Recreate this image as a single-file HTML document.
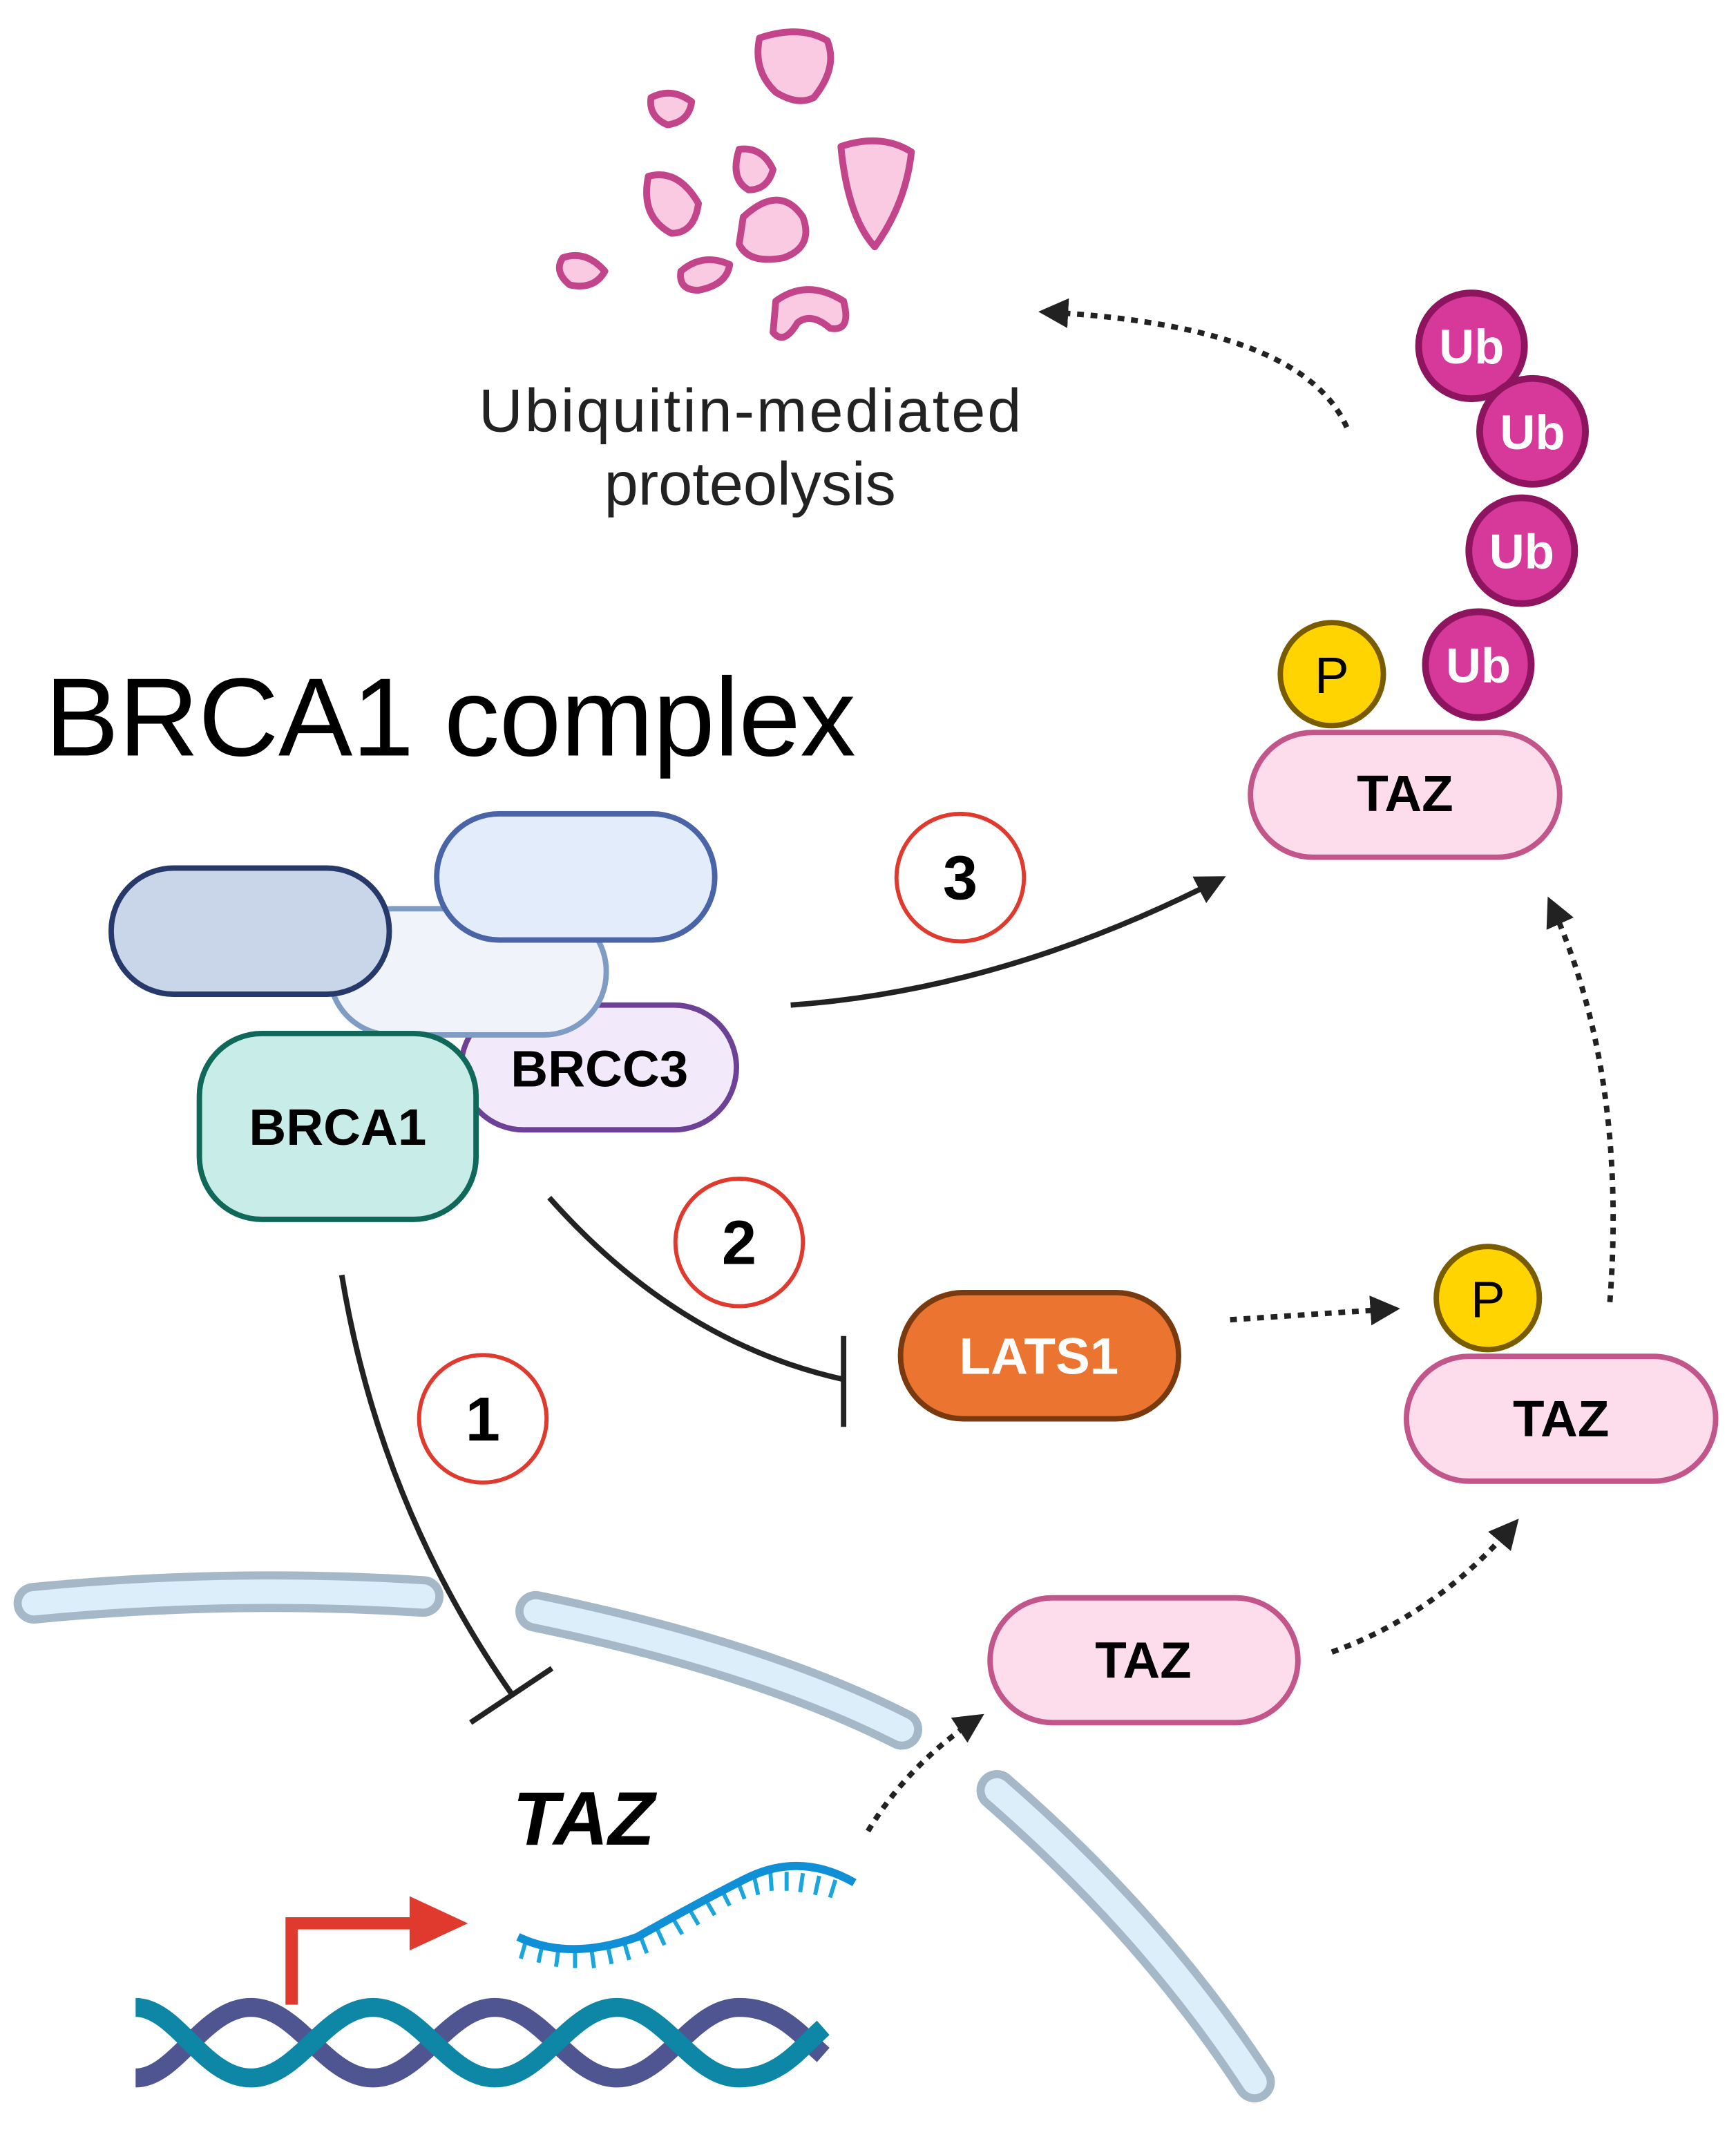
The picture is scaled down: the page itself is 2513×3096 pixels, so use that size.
<!DOCTYPE html>
<html><head><meta charset="utf-8"><style>html,body{margin:0;padding:0;background:#fff}svg{display:block}</style></head>
<body>
<svg width="2513" height="3096" viewBox="0 0 1280 1577" preserveAspectRatio="none" xmlns="http://www.w3.org/2000/svg" font-family="'Liberation Sans', sans-serif">
<defs>
<marker id="ah" viewBox="0 0 10 10" refX="8" refY="5" markerWidth="5.5" markerHeight="5.5" orient="auto"><path d="M0,0 L10,5 L0,10 z" fill="#222"/></marker>
</defs>
<g fill="#fac9e2" stroke="#c2448a" stroke-width="5" stroke-linejoin="round">
<path d="M560,28 Q590,18 610,30 Q618,50 600,72 Q588,78 572,68 Q555,52 560,28z"/>
<path d="M480,72 Q495,64 510,75 Q508,90 492,92 Q478,86 480,72z"/>
<path d="M545,110 Q562,108 570,125 Q566,140 552,140 Q538,132 545,110z"/>
<path d="M620,108 Q650,98 672,112 Q668,150 645,182 Q625,160 620,108z"/>
<path d="M478,130 Q500,124 515,150 Q512,172 495,172 Q472,160 478,130z"/>
<path d="M548,160 Q575,135 592,160 Q600,182 578,190 Q552,195 545,180z"/>
<path d="M415,190 Q432,184 446,200 Q438,214 420,210 Q408,200 415,190z"/>
<path d="M502,200 Q518,186 538,195 Q536,210 515,214 Q500,214 502,200z"/>
<path d="M572,222 Q595,205 622,222 Q628,245 612,242 Q598,230 588,238 Q578,255 570,245z"/>
</g>
<text x="553" y="318" font-size="45" text-anchor="middle" fill="#222" textLength="400">Ubiquitin-mediated</text>
<text x="553" y="372" font-size="45" text-anchor="middle" fill="#222">proteolysis</text>
<path d="M993,315 Q960,240 770,230" fill="none" stroke="#222" stroke-width="4" stroke-dasharray="5,5" marker-end="url(#ah)"/>
<g stroke="#8e1460" stroke-width="5" fill="#d6399a">
<circle cx="1085" cy="255" r="39"/><circle cx="1130" cy="318" r="39"/><circle cx="1122" cy="406" r="39"/><circle cx="1090" cy="490" r="39"/>
</g>
<g fill="#fff" font-size="36" font-weight="bold" text-anchor="middle">
<text x="1085" y="268">Ub</text><text x="1130" y="331">Ub</text><text x="1122" y="419">Ub</text><text x="1090" y="503">Ub</text>
</g>
<circle cx="982" cy="497" r="38" fill="#ffd400" stroke="#7a5c00" stroke-width="4"/>
<text x="982" y="511" font-size="38" text-anchor="middle">P</text>
<rect x="922" y="540" width="228" height="92" rx="46" fill="#fddcec" stroke="#c2558a" stroke-width="4"/>
<text x="1036" y="598" font-size="38" font-weight="bold" text-anchor="middle">TAZ</text>
<text x="33" y="557" font-size="82" fill="#000" textLength="598">BRCA1 complex</text>
<rect x="340" y="741" width="203" height="92" rx="46" fill="#f2e9fb" stroke="#6d4196" stroke-width="4"/>
<rect x="243" y="670" width="204" height="93" rx="46" fill="#f0f4fa" stroke="#7f9cc4" stroke-width="4"/>
<rect x="82" y="640" width="205" height="93" rx="46" fill="#c9d5e8" stroke="#27396a" stroke-width="4"/>
<rect x="322" y="600" width="205" height="93" rx="46" fill="#e2ecfb" stroke="#4a64a8" stroke-width="4"/>
<rect x="147" y="762" width="204" height="137" rx="46" fill="#c8ede8" stroke="#10685a" stroke-width="4"/>
<text x="442" y="801" font-size="38" font-weight="bold" text-anchor="middle">BRCC3</text>
<text x="249" y="844" font-size="38" font-weight="bold" text-anchor="middle">BRCA1</text>
<path d="M583,741 Q740,730 900,648" fill="none" stroke="#222" stroke-width="4" marker-end="url(#ah)"/>
<g fill="#fff" stroke="#e03a2e" stroke-width="3">
<circle cx="708" cy="647" r="47"/><circle cx="545" cy="916" r="47"/><circle cx="356" cy="1046" r="47"/>
</g>
<g font-size="46" font-weight="bold" text-anchor="middle">
<text x="708" y="663">3</text><text x="545" y="932">2</text><text x="356" y="1062">1</text>
</g>
<path d="M405,883 Q500,990 622,1017" fill="none" stroke="#222" stroke-width="4"/>
<line x1="622" y1="985" x2="622" y2="1052" stroke="#222" stroke-width="4"/>
<path d="M252,940 Q280,1110 378,1250" fill="none" stroke="#222" stroke-width="4"/>
<line x1="347" y1="1270" x2="407" y2="1230" stroke="#222" stroke-width="4"/>
<rect x="664" y="953" width="205" height="93" rx="46" fill="#ea7430" stroke="#7a3a10" stroke-width="4"/>
<text x="766" y="1013" font-size="38" font-weight="bold" fill="#fff" text-anchor="middle">LATS1</text>
<path d="M907,973 L1028,965" fill="none" stroke="#222" stroke-width="4" stroke-dasharray="5,5" marker-end="url(#ah)"/>
<circle cx="1097" cy="957" r="38" fill="#ffd400" stroke="#7a5c00" stroke-width="4"/>
<text x="1097" y="971" font-size="38" text-anchor="middle">P</text>
<rect x="1037" y="1000" width="228" height="92" rx="46" fill="#fddcec" stroke="#c2558a" stroke-width="4"/>
<text x="1151" y="1059" font-size="38" font-weight="bold" text-anchor="middle">TAZ</text>
<path d="M1187,960 Q1200,790 1143,665" fill="none" stroke="#222" stroke-width="4" stroke-dasharray="5,5" marker-end="url(#ah)"/>
<g fill="none" stroke-linecap="round">
<path d="M25,1182 Q170,1168 312,1177" stroke="#a5b8c8" stroke-width="30"/>
<path d="M25,1182 Q170,1168 312,1177" stroke="#dbeefa" stroke-width="18"/>
<path d="M395,1188 Q560,1222 665,1275" stroke="#a5b8c8" stroke-width="30"/>
<path d="M395,1188 Q560,1222 665,1275" stroke="#dbeefa" stroke-width="18"/>
<path d="M735,1320 Q850,1420 925,1535" stroke="#a5b8c8" stroke-width="30"/>
<path d="M735,1320 Q850,1420 925,1535" stroke="#dbeefa" stroke-width="18"/>
</g>
<rect x="730" y="1178" width="227" height="92" rx="46" fill="#fddcec" stroke="#c2558a" stroke-width="4"/>
<text x="843" y="1237" font-size="38" font-weight="bold" text-anchor="middle">TAZ</text>
<path d="M982,1218 Q1060,1190 1117,1123" fill="none" stroke="#222" stroke-width="4" stroke-dasharray="5,5" marker-end="url(#ah)"/>
<path d="M640,1350 Q670,1300 722,1266" fill="none" stroke="#222" stroke-width="4" stroke-dasharray="5,5" marker-end="url(#ah)"/>
<text x="378" y="1360" font-size="56" font-weight="bold" font-style="italic">TAZ</text>
<path d="M215,1478 L215,1418 L305,1418" fill="none" stroke="#e03a2e" stroke-width="9"/>
<path d="M302,1398 L345,1418 L302,1438z" fill="#e03a2e"/>
<g stroke="#1aa6dc" stroke-width="3">
<path d="M388,1430 l-4,14 M400,1433 l-3,14 M412,1435 l-2,15 M424,1436 l0,15 M436,1436 l2,15 M448,1434 l3,14 M460,1431 l4,14 M472,1427 l5,13 M484,1421 l6,13 M496,1414 l7,12 M508,1407 l7,12 M520,1400 l7,12 M532,1393 l6,12 M544,1387 l5,13 M556,1383 l3,14 M568,1380 l1,14 M580,1380 l0,14 M592,1381 l-2,14 M604,1383 l-3,14 M616,1386 l-4,13"/>
</g>
<path d="M382,1428 Q420,1446 470,1428 Q520,1400 550,1385 Q590,1365 630,1388" fill="none" stroke="#0f8fd6" stroke-width="6"/>
<g fill="none" stroke-width="14">
<path d="M100,1532 C130,1532 150,1480 185,1480 C220,1480 240,1532 275,1532 C310,1532 330,1480 365,1480 C400,1480 420,1532 455,1532 C490,1532 510,1480 545,1480 C575,1480 590,1500 607,1515" stroke="#4f5590"/>
<path d="M100,1480 C130,1480 150,1532 185,1532 C220,1532 240,1480 275,1480 C310,1480 330,1532 365,1532 C400,1532 420,1480 455,1480 C490,1480 510,1532 545,1532 C575,1532 590,1510 607,1495" stroke="#0e86a6"/>
</g>
</svg>
</body></html>
